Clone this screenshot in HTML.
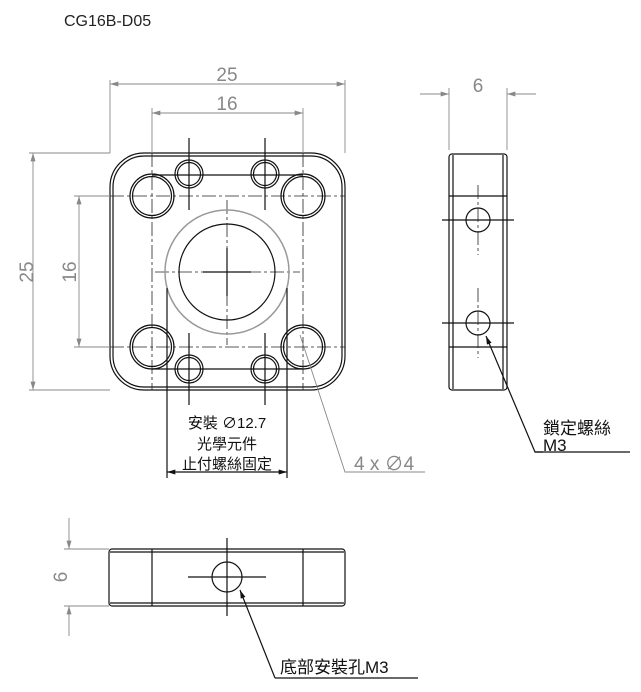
<!DOCTYPE html>
<html><head><meta charset="utf-8"><style>
html,body{margin:0;padding:0;background:#fff;}
svg{display:block;}
.k{stroke:#111;fill:none;stroke-width:1.2}
.g{stroke:#888;fill:none;stroke-width:0.9}
.c{stroke:#222;fill:none;stroke-width:0.8;stroke-dasharray:14 3 3 3}
.t{font-family:"Liberation Sans","Noto Sans CJK TC",sans-serif;}
</style></head><body>
<svg width="641" height="692" viewBox="0 0 641 692" xmlns="http://www.w3.org/2000/svg">
<defs>
<marker id="a" viewBox="0 0 10 6" refX="10" refY="3" markerWidth="14" markerHeight="5" orient="auto-start-reverse" markerUnits="userSpaceOnUse"><path d="M0,0L10,3L0,6z" fill="#888"/></marker>
<marker id="b" viewBox="0 0 10 6" refX="10" refY="3" markerWidth="14" markerHeight="5" orient="auto-start-reverse" markerUnits="userSpaceOnUse"><path d="M0,0L10,3L0,6z" fill="#111"/></marker>
</defs>
<text x="64" y="26" class="t" font-size="16" fill="#222">CG16B-D05</text>

<!-- front view -->
<rect x="110" y="153" width="235" height="237" rx="34" class="k"/>
<rect x="113" y="156" width="229" height="231" rx="31" class="k" stroke-width="0.8"/>
<g class="c">
<line x1="110" y1="196" x2="345" y2="196"/><line x1="110" y1="347" x2="345" y2="347"/>
<line x1="152" y1="153" x2="152" y2="390"/><line x1="303" y1="153" x2="303" y2="390"/>
<line x1="155" y1="272" x2="300" y2="272"/><line x1="227" y1="200" x2="227" y2="345"/>
</g>
<line x1="152" y1="175" x2="303" y2="175" class="k" stroke-width="0.8"/>
<line x1="152" y1="369" x2="303" y2="369" class="k" stroke-width="0.8"/>
<g class="k">
<circle cx="152" cy="196" r="22"/><circle cx="152" cy="196" r="19.5"/>
<circle cx="303" cy="196" r="22"/><circle cx="303" cy="196" r="19.5"/>
<circle cx="152" cy="347" r="22"/><circle cx="152" cy="347" r="19.5"/>
<circle cx="303" cy="347" r="22"/><circle cx="303" cy="347" r="19.5"/>
<circle cx="189" cy="174" r="14"/><circle cx="189" cy="174" r="11.5"/>
<circle cx="265" cy="174" r="14"/><circle cx="265" cy="174" r="11.5"/>
<circle cx="189" cy="369" r="14"/><circle cx="189" cy="369" r="11.5"/>
<circle cx="265" cy="369" r="14"/><circle cx="265" cy="369" r="11.5"/>
<circle cx="227" cy="272" r="48"/>
</g>
<circle cx="227" cy="272" r="62" fill="none" stroke="#999" stroke-width="1.5"/>
<g class="k" stroke-width="0.8">
<line x1="189" y1="138" x2="189" y2="210"/><line x1="265" y1="138" x2="265" y2="210"/>
<line x1="189" y1="333" x2="189" y2="405"/><line x1="265" y1="333" x2="265" y2="405"/>
<line x1="203" y1="272" x2="251" y2="272"/><line x1="227" y1="248" x2="227" y2="296"/>
<line x1="167" y1="288" x2="167" y2="478"/><line x1="287" y1="288" x2="287" y2="478"/>
<line x1="167" y1="472" x2="287" y2="472" marker-start="url(#b)" marker-end="url(#b)"/>
</g>
<text x="227" y="428" class="t" font-size="15" fill="#111" text-anchor="middle">安裝 ∅12.7</text>
<text x="227" y="449" class="t" font-size="15" fill="#111" text-anchor="middle">光學元件</text>
<text x="227" y="469" class="t" font-size="15" fill="#111" text-anchor="middle">止付螺絲固定</text>

<!-- dims front -->
<g class="g">
<line x1="110" y1="80" x2="110" y2="153"/><line x1="345" y1="80" x2="345" y2="153"/>
<line x1="110" y1="84" x2="345" y2="84" marker-start="url(#a)" marker-end="url(#a)"/>
<line x1="152" y1="108" x2="152" y2="153"/><line x1="303" y1="108" x2="303" y2="153"/>
<line x1="152" y1="113" x2="303" y2="113" marker-start="url(#a)" marker-end="url(#a)"/>
<line x1="29" y1="153" x2="110" y2="153"/><line x1="29" y1="390" x2="110" y2="390"/>
<line x1="33" y1="153" x2="33" y2="390" marker-start="url(#a)" marker-end="url(#a)"/>
<line x1="74" y1="196" x2="110" y2="196"/><line x1="74" y1="347" x2="110" y2="347"/>
<line x1="79" y1="196" x2="79" y2="347" marker-start="url(#a)" marker-end="url(#a)"/>
<polyline points="300,335 345,472 425,472"/>
</g>
<g class="t" fill="#888" font-size="19">
<text x="227" y="81" text-anchor="middle">25</text>
<text x="227" y="110" text-anchor="middle">16</text>
<text transform="translate(33,272) rotate(-90)" text-anchor="middle">25</text>
<text transform="translate(76,272) rotate(-90)" text-anchor="middle">16</text>
<text x="354" y="470">4 x ∅4</text>
<text x="478" y="92" text-anchor="middle">6</text>
<text transform="translate(67,577) rotate(-90)" text-anchor="middle">6</text>
</g>

<!-- side view -->
<rect x="449" y="154" width="58" height="236" rx="3" class="k"/>
<g class="k" stroke-width="0.8">
<line x1="453" y1="155" x2="453" y2="389"/><line x1="503" y1="155" x2="503" y2="389"/>
<line x1="449" y1="196" x2="507" y2="196"/><line x1="449" y1="347" x2="507" y2="347"/>
<circle cx="478" cy="220" r="12"/><circle cx="478" cy="323" r="12"/>
<line x1="442" y1="220" x2="514" y2="220"/><line x1="442" y1="323" x2="514" y2="323"/>
</g>
<g class="c"><line x1="478" y1="185" x2="478" y2="255"/><line x1="478" y1="288" x2="478" y2="358"/></g>
<g class="g">
<line x1="449" y1="88" x2="449" y2="150"/><line x1="507" y1="88" x2="507" y2="150"/>
<line x1="420" y1="94" x2="449" y2="94" marker-end="url(#a)"/>
<line x1="536" y1="94" x2="507" y2="94" marker-end="url(#a)"/>
</g>
<polyline points="543,452 535,452 486,336" class="k" stroke-width="0.8" marker-end="url(#b)"/>
<line x1="535" y1="452" x2="630" y2="452" class="k" stroke-width="0.8"/>
<text x="543" y="434" class="t" font-size="17" fill="#111">鎖定螺絲</text>
<text x="543" y="451" class="t" font-size="17" fill="#111">M3</text>

<!-- bottom view -->
<rect x="109" y="549" width="236" height="57" rx="3" class="k"/>
<g class="k" stroke-width="0.8">
<line x1="110" y1="552" x2="344" y2="552"/><line x1="110" y1="603" x2="344" y2="603"/>
<line x1="152" y1="549" x2="152" y2="606"/><line x1="303" y1="549" x2="303" y2="606"/>
<circle cx="227" cy="577" r="15"/>
<line x1="188" y1="577" x2="266" y2="577"/><line x1="227" y1="538" x2="227" y2="616"/>
</g>
<g class="g">
<line x1="64" y1="549" x2="109" y2="549"/><line x1="64" y1="606" x2="109" y2="606"/>
<line x1="69" y1="518" x2="69" y2="549" marker-end="url(#a)"/>
<line x1="69" y1="636" x2="69" y2="606" marker-end="url(#a)"/>
</g>
<line x1="275" y1="678" x2="240" y2="590" class="k" stroke-width="0.8" marker-end="url(#b)"/>
<line x1="275" y1="678" x2="418" y2="678" class="k" stroke-width="0.8"/>
<text x="280" y="673" class="t" font-size="17" fill="#111">底部安裝孔M3</text>
</svg>
</body></html>
